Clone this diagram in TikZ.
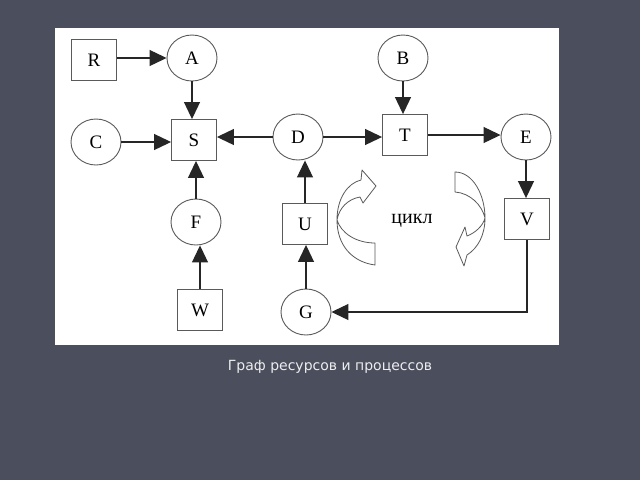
\documentclass[tikz,border=0pt]{standalone}
\usepackage{fontspec}
\setmainfont{Liberation Serif}
\newfontfamily\capfont{DejaVu Sans}
\usetikzlibrary{shapes.geometric,arrows.meta}
\definecolor{slide}{RGB}{75,78,92}
\definecolor{edge}{RGB}{90,90,90}
\begin{document}
\begin{tikzpicture}[x=1pt,y=-1pt,
    res/.style={ellipse,draw=edge,line width=0.9pt,minimum width=50pt,minimum height=46pt,inner sep=0pt,font=\fontsize{19}{19}\selectfont},
    proc/.style={rectangle,draw=edge,line width=0.9pt,minimum width=45pt,minimum height=41pt,inner sep=0pt,font=\fontsize{19}{19}\selectfont},
    arr/.style={draw=black!85,line width=1.1pt,-{Triangle[length=17pt,width=16pt]}},
    loopar/.style={draw=edge,line width=0.8pt,fill=white,line join=round}]
    \useasboundingbox (0,0) rectangle (640,480);
    \fill[slide] (0,0) rectangle (640,480);
    \fill[white] (55,28) rectangle (559,345);

    %% nodes
    \node[proc] (R) at (94,60) {R};
    \node[res]  (A) at (192,58) {A};
    \node[res]  (B) at (403,58) {B};
    \node[res]  (C) at (96,142) {C};
    \node[proc] (S) at (194,140) {S};
    \node[res]  (D) at (298,137) {D};
    \node[proc] (T) at (405,135) {T};
    \node[res]  (E) at (526,137) {E};
    \node[res]  (F) at (196,222) {F};
    \node[proc] (U) at (305,224) {U};
    \node[proc] (V) at (527,219) {V};
    \node[proc] (W) at (200,310) {W};
    \node[res]  (G) at (306,312) {G};
    \node[font=\fontsize{20}{20}\selectfont] (cycle) at (412,221) {цикл};

    %% arcs
    \draw[arr] (R.east |- A) -- (A.west);
    \draw[arr] (A.south) -- (A |- S.north);
    \draw[arr] (C.east) -- (C -| S.west);
    \draw[arr] (D.west) -- (D -| S.east);
    \draw[arr] (F.north) -- (F |- S.south);
    \draw[arr] (W.north) -- (W |- F.south);
    \draw[arr] (D.east) -- (D -| T.west);
    \draw[arr] (B.south) -- (B |- T.north);
    \draw[arr] (T.east) -- (T -| E.west);
    \draw[arr] (E.south) -- (E |- V.north);
    \draw[arr] (U.north) -- (U |- D.south);
    \draw[arr] (G.north) -- (G |- U.south);
    \draw[arr] (V.south) |- (G.east);

    %% the two curved arrows round the cycle
    \draw[loopar] (375,243) -- (375,265) .. controls (352,262) and (337,245) .. (337,220)
        .. controls (337,198) and (348,183) .. (361,180) -- (362,170) -- (376,186) -- (363,203)
        -- (360,197) .. controls (348,199) and (339,208) .. (337,220)
        .. controls (341,233) and (356,243) .. (375,243) -- cycle;
    \draw[loopar] (455,172) -- (455,192) .. controls (470,193) and (482,205) .. (485,218)
        .. controls (483,226) and (475,233) .. (467,236) -- (465,227) -- (456,247) -- (464,266)
        -- (467,255) .. controls (478,248) and (485,235) .. (485,218)
        .. controls (485,195) and (473,172) .. (455,172) -- cycle;

    \node[font=\capfont\fontsize{14}{14}\selectfont,text=white!90!slide] (caption) at (330,367) {Граф ресурсов и процессов};
\end{tikzpicture}
\end{document}
